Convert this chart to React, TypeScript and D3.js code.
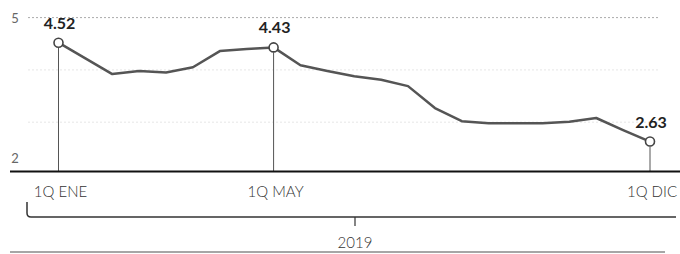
import React from 'react';
import * as d3 from 'd3';

// Quincenas 2019 (1Q ENE ... 1Q DIC)
const months = ['ENE', 'FEB', 'MAR', 'ABR', 'MAY', 'JUN', 'JUL', 'AGO', 'SEP', 'OCT', 'NOV', 'DIC'];
const periods = months.flatMap(m => [`1Q ${m}`, `2Q ${m}`]).slice(0, 23);
const values = [
  4.52, 4.22, 3.92, 3.98, 3.95, 4.05, 4.36, 4.40, 4.43, 4.09, 3.98, 3.88,
  3.81, 3.69, 3.27, 3.02, 2.98, 2.98, 2.98, 3.01, 3.08, 2.85, 2.63,
];
const highlighted = ['1Q ENE', '1Q MAY', '1Q DIC'];
const yTicks = [2, 5];
const gridTicks = [3, 4, 5];
const yearLabel = '2019';

const width = 680;
const height = 254;
const baseY = 171.5;

const App = () => {
  const x = d3.scalePoint<string>().domain(periods).range([58.5, 650]);
  const y = d3.scaleLinear().domain([2, 5]).range([174.5, 17.6]);

  const data = periods.map((p, i) => ({ period: p, value: values[i] }));
  const marked = data.filter(d => highlighted.includes(d.period));

  const line = d3.line<{ period: string; value: number }>()
    .x(d => x(d.period) as number)
    .y(d => y(d.value));

  const font = 'Lato, "Open Sans", sans-serif';

  return (
    <svg
      width={width}
      height={height}
      style={{ position: 'absolute', left: 0, top: 0, background: '#fff', fontFamily: font }}
    >
      {/* gridlines */}
      {gridTicks.map(t => (
        <line
          key={t}
          x1={28}
          x2={660}
          y1={y(t)}
          y2={y(t)}
          stroke={t === 5 ? '#aaa' : '#e6e6e6'}
          strokeWidth={1}
          strokeDasharray="2,2"
        />
      ))}

      {/* y labels */}
      {yTicks.map(t => (
        <text
          key={t}
          x={15}
          y={t === 5 ? y(t) + 5 : y(t) - 12}
          textAnchor="middle"
          fontSize={13}
          fill="#666"
        >
          {t}
        </text>
      ))}

      {/* drop lines */}
      {marked.map(d => (
        <line
          key={d.period}
          x1={x(d.period)}
          x2={x(d.period)}
          y1={y(d.value) + 5}
          y2={baseY}
          stroke="#555"
          strokeWidth={1}
        />
      ))}

      {/* baseline */}
      <line x1={10} x2={680} y1={baseY} y2={baseY} stroke="#111" strokeWidth={2} />

      {/* series */}
      <path d={line(data) || ''} fill="none" stroke="#555" strokeWidth={2.5} strokeLinejoin="round" />

      {marked.map(d => (
        <g key={d.period}>
          <circle cx={x(d.period)} cy={y(d.value)} r={4.5} fill="#fff" stroke="#444" strokeWidth={1.6} />
          <text
            x={(x(d.period) as number) + 1}
            y={y(d.value) - 14}
            textAnchor="middle"
            fontSize={16}
            fontWeight={700}
            fill="#222"
          >
            {d.value.toFixed(2)}
          </text>
          <text
            x={(x(d.period) as number) + 2}
            y={197}
            textAnchor="middle"
            fontSize={15}
            fontWeight={300}
            fill="#333"
          >
            {d.period}
          </text>
        </g>
      ))}

      {/* year bracket */}
      <path d="M27,202 V213 Q27,217 31,217 H676" fill="none" stroke="#333" strokeWidth={1.5} />
      <line x1={355} x2={355} y1={217} y2={226} stroke="#333" strokeWidth={1.2} />
      <text x={355} y={248} textAnchor="middle" fontSize={15} fontWeight={300} fill="#333">
        {yearLabel}
      </text>
      <line x1={10} x2={665} y1={252} y2={252} stroke="#888" strokeWidth={1.5} />
    </svg>
  );
};

export default App;
